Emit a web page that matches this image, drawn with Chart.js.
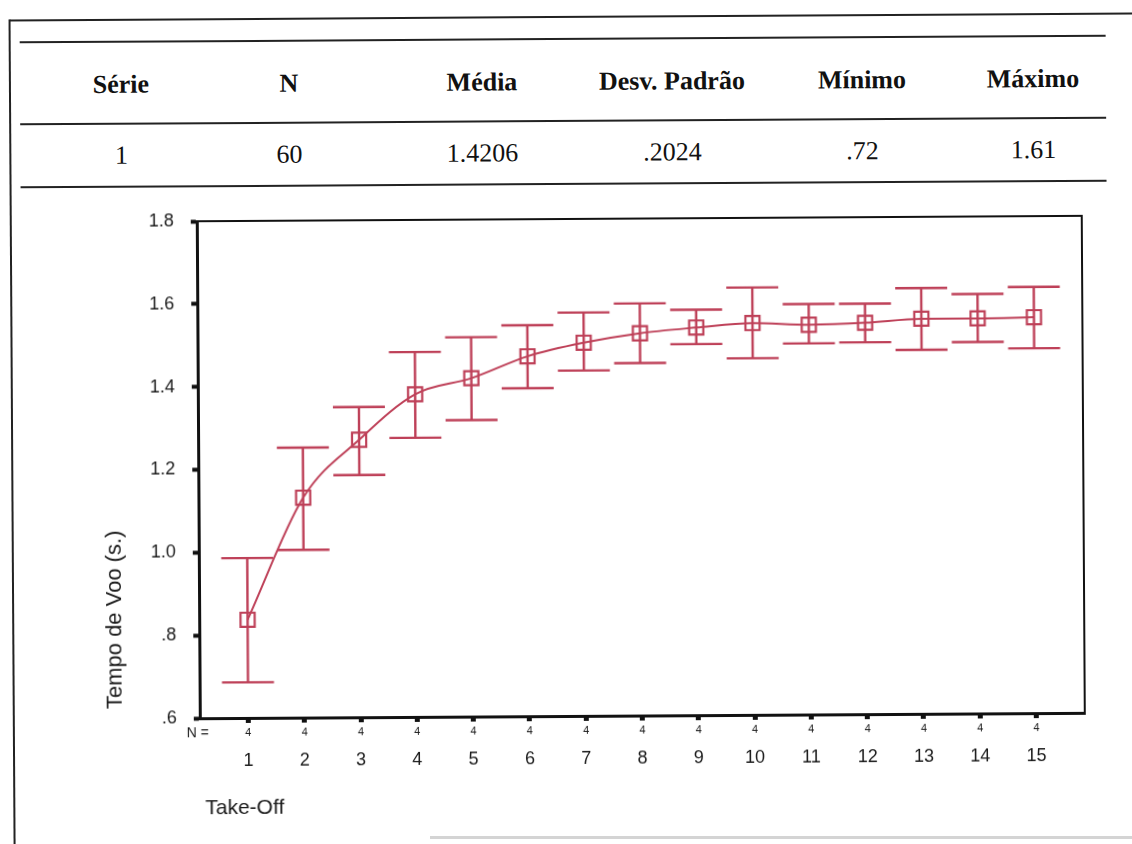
<!DOCTYPE html>
<html><head><meta charset="utf-8">
<script src="https://cdn.jsdelivr.net/npm/chart.js@4.4.1/dist/chart.umd.min.js"></script>
<style>
html,body{margin:0;padding:0;background:#fff;}
#page{position:relative;width:1132px;height:844px;overflow:hidden;background:#fff;}
#wrap{position:absolute;left:0;top:0;width:1132px;height:844px;transform:rotate(-0.35deg);transform-origin:566px 422px;}
.rule{position:absolute;left:22px;width:1086px;height:2px;background:#222;}
.cell{position:absolute;transform:translate(-50%,-50%);font-family:"Liberation Serif","Times New Roman",serif;font-size:26px;color:#111;white-space:nowrap;line-height:1;}
.hd{font-weight:bold;}
</style></head>
<body>
<div id="page">
  <div id="wrap">
    <div style="position:absolute;left:12px;top:16px;width:1200px;height:2px;background:#222"></div>
    <div style="position:absolute;left:11px;top:16px;width:2px;height:900px;background:#222"></div>
    <div id="table"></div>
    <canvas id="c" width="1132" height="844" style="position:absolute;left:0;top:0;width:1132px;height:844px"></canvas>
  </div>
  <div style="position:absolute;left:430px;top:836px;width:702px;height:3px;background:#d4d4d4"></div>
</div>
<script>
// ---- data ----
const headers = ['Série', 'N', 'Média', 'Desv. Padrão', 'Mínimo', 'Máximo'];
const rowValues = ['1', '60', '1.4206', '.2024', '.72', '1.61'];
const takeOff = [1, 2, 3, 4, 5, 6, 7, 8, 9, 10, 11, 12, 13, 14, 15];
const nCounts = [4, 4, 4, 4, 4, 4, 4, 4, 4, 4, 4, 4, 4, 4, 4];
const means = [0.837, 1.131, 1.270, 1.379, 1.417, 1.469, 1.501, 1.523, 1.536, 1.546, 1.541, 1.545, 1.554, 1.554, 1.556];
const upperBar = [0.986, 1.252, 1.349, 1.481, 1.516, 1.544, 1.574, 1.595, 1.579, 1.632, 1.591, 1.591, 1.628, 1.613, 1.629];
const lowerBar = [0.686, 1.005, 1.185, 1.274, 1.316, 1.392, 1.434, 1.451, 1.496, 1.461, 1.496, 1.498, 1.479, 1.497, 1.481];
const yTicks = [0.6, 0.8, 1.0, 1.2, 1.4, 1.6, 1.8];
const xTitle = 'Take-Off';
const yTitle = 'Tempo de Voo (s.)';
const nLabel = 'N =';

// ---- table ----
const colX = [123, 291, 484, 674, 864, 1035];
const tbl = document.getElementById('table');
[38.5, 120.5, 183.5].forEach(y => {
  const d = document.createElement('div'); d.className = 'rule'; d.style.top = (y - 1) + 'px'; tbl.appendChild(d);
});
headers.forEach((h, i) => {
  const d = document.createElement('div'); d.className = 'cell hd'; d.textContent = h;
  d.style.left = colX[i] + 'px'; d.style.top = '81.5px'; tbl.appendChild(d);
});
rowValues.forEach((v, i) => {
  const d = document.createElement('div'); d.className = 'cell'; d.textContent = v;
  d.style.left = colX[i] + 'px'; d.style.top = '153px'; tbl.appendChild(d);
});

// ---- chart ----
const RED = '#be4058';
const SANS = '"Liberation Sans", Arial, sans-serif';

const errorBars = {
  id: 'errorBars',
  beforeDatasetsDraw(chart) {
    const { ctx, scales: { x, y } } = chart;
    ctx.save();
    ctx.strokeStyle = RED; ctx.lineWidth = 2.4;
    takeOff.forEach((t, i) => {
      const px = x.getPixelForValue(t);
      const top = y.getPixelForValue(upperBar[i]);
      const bot = y.getPixelForValue(lowerBar[i]);
      ctx.beginPath();
      ctx.moveTo(px, top); ctx.lineTo(px, bot);
      ctx.moveTo(px - 26, top); ctx.lineTo(px + 26, top);
      ctx.moveTo(px - 26, bot); ctx.lineTo(px + 26, bot);
      ctx.stroke();
    });
    ctx.restore();
  }
};

const extras = {
  id: 'extras',
  afterDraw(chart) {
    const { ctx, chartArea: a, scales: { x } } = chart;
    ctx.save();
    ctx.strokeStyle = '#111'; ctx.lineWidth = 2;
    ctx.beginPath(); ctx.moveTo(a.left, a.top); ctx.lineTo(a.right, a.top); ctx.lineTo(a.right, a.bottom); ctx.stroke();
    ctx.fillStyle = '#1a1a1a';
    ctx.textBaseline = 'middle';
    ctx.font = '11px ' + SANS; ctx.textAlign = 'center';
    takeOff.forEach((t, i) => ctx.fillText(String(nCounts[i]), x.getPixelForValue(t), a.bottom + 15));
    ctx.font = '14px ' + SANS; ctx.textAlign = 'right';
    ctx.fillText(nLabel, a.left + 9, a.bottom + 15);
    ctx.font = '21px ' + SANS; ctx.textAlign = 'left';
    ctx.fillText(xTitle, 203, 806);
    ctx.translate(114, 617); ctx.rotate(-Math.PI / 2);
    ctx.font = '22px ' + SANS; ctx.textAlign = 'center';
    ctx.fillText(yTitle, 0, 0);
    ctx.restore();
  }
};

new Chart(document.getElementById('c'), {
  type: 'line',
  data: {
    datasets: [{
      data: takeOff.map((t, i) => ({ x: t, y: means[i] })),
      borderColor: RED, borderWidth: 2,
      cubicInterpolationMode: 'monotone',
      pointStyle: 'rect', pointRadius: 10, pointBorderWidth: 2.2,
      pointBorderColor: RED, pointBackgroundColor: 'rgba(0,0,0,0)',
      fill: false
    }]
  },
  options: {
    responsive: false, animation: false, devicePixelRatio: 1,
    layout: { padding: { left: 0, top: 219, right: 49, bottom: 0 } },
    plugins: { legend: { display: false }, tooltip: { enabled: false } },
    scales: {
      x: {
        type: 'linear', min: 0.14, max: 15.86,
        afterBuildTicks: s => { s.ticks = takeOff.map(v => ({ value: v })); },
        afterFit: s => { s.height = 128; },
        grid: { drawOnChartArea: false, drawTicks: true, tickLength: 5, tickWidth: 5, tickColor: '#111' },
        border: { display: true, color: '#111', width: 3 },
        ticks: { color: '#1a1a1a', font: { family: SANS, size: 18 }, padding: 27, maxRotation: 0, autoSkip: false, callback: v => String(v) }
      },
      y: {
        min: 0.6, max: 1.8,
        afterBuildTicks: s => { s.ticks = yTicks.map(v => ({ value: v })); },
        afterFit: s => { s.width = 198; },
        grid: { drawOnChartArea: false, drawTicks: true, tickLength: 6, tickWidth: 4, tickColor: '#111' },
        border: { display: true, color: '#111', width: 3 },
        ticks: { color: '#1a1a1a', font: { family: SANS, size: 18 }, padding: 17,
          callback: v => { const s = Number(v).toFixed(1); return s.startsWith('0') ? s.slice(1) : s; } }
      }
    }
  },
  plugins: [errorBars, extras]
});
</script>
</body></html>
